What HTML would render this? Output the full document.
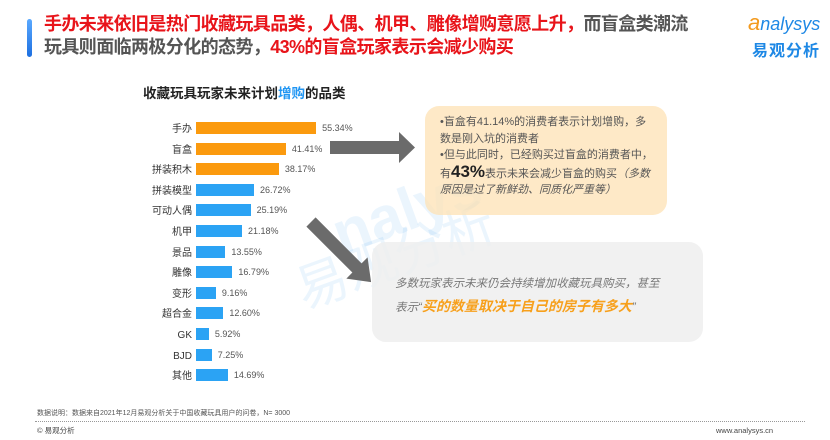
<!DOCTYPE html>
<html><head><meta charset="utf-8"><style>
body{margin:0;width:830px;height:440px;background:#fff;position:relative;overflow:hidden;font-family:"Liberation Sans","Noto Sans CJK SC",sans-serif}
.a{position:absolute;white-space:nowrap}
.t{font-size:18px;font-weight:bold;color:#555;line-height:23px;letter-spacing:-0.6px}
.r{color:#e8141a}
.lab{font-size:10px;color:#333;text-align:right;width:60px;left:132px;line-height:12px}
.bar{position:absolute;left:196px;height:12px}
.v{font-size:9px;color:#555;line-height:12px}
</style></head><body>
<div class="a" style="left:27px;top:19px;width:5px;height:38px;border-radius:3px;background:linear-gradient(#5aa9ff,#1d6fe0)"></div>
<div class="a t" style="left:44px;top:13px"><span class="r">手办未来依旧是热门收藏玩具品类，人偶、机甲、雕像增购意愿上升，</span>而盲盒类潮流</div>
<div class="a t" style="left:44px;top:36px">玩具则面临两极分化的态势，<span class="r">43%的盲盒玩家表示会减少购买</span></div>
<div class="a" style="left:748px;top:10px;font-size:18px;color:#1e88e5;font-style:italic"><span style="color:#f39a1e;font-size:22px">a</span>nalysys</div>
<div class="a" style="left:752px;top:37px;font-size:16px;color:#1e88e5;font-weight:bold;letter-spacing:1px">易观分析</div>
<div class="a" style="left:330px;top:175px;font-size:60px;font-weight:bold;color:rgba(30,140,230,0.09);transform:rotate(-20deg)">nalys</div>
<div class="a" style="left:290px;top:215px;font-size:52px;color:rgba(30,140,230,0.09);transform:rotate(-20deg)">易观分析</div>
<div class="a" style="left:143px;top:82px;font-size:13.5px;font-weight:bold;color:#222">收藏玩具玩家未来计划<span style="color:#2196f3">增购</span>的品类</div>
<div id="c"></div>
<script>
var d=[["手办",55.34,1],["盲盒",41.41,1],["拼装积木",38.17,1],["拼装模型",26.72],["可动人偶",25.19],["机甲",21.18],["景品",13.55],["雕像",16.79],["变形",9.16],["超合金",12.60],["GK",5.92],["BJD",7.25],["其他",14.69]];
var h="";d.forEach(function(e,i){var y=128+i*20.6;var w=e[1]*2.17;
h+='<div class="a lab" style="top:'+(y-4)+'px">'+e[0]+'</div><div class="bar" style="top:'+(y-6)+'px;width:'+w+'px;background:'+(e[2]?'#fb9a0e':'#2ba3f4')+'"></div><div class="a v" style="left:'+(196+w+6)+'px;top:'+(y-6)+'px">'+e[1].toFixed(2)+'%</div>';});
document.getElementById("c").innerHTML=h;
</script>
<svg class="a" style="left:0;top:0" width="830" height="440"><polygon points="330,141 399,141 399,132 415,147.5 399,163 399,154 330,154" fill="#6b6b6b"/>
<g transform="translate(311,222) rotate(45)"><polygon points="0,-6.5 65,-6.5 65,-15 85,0 65,15 65,6.5 0,6.5" fill="#6b6b6b"/></g></svg>
<div class="a" style="left:425px;top:106px;width:242px;height:109px;border-radius:14px;background:rgba(253,226,180,0.75)"></div>
<div class="a" style="left:440px;top:114px;font-size:11px;color:#555;line-height:16.5px">•盲盒有41.14%的消费者表示计划增购，多<br>数是刚入坑的消费者<br>•但与此同时，已经购买过盲盒的消费者中，<br>有<b style="font-size:17px;color:#222">43%</b>表示未来会减少盲盒的购买<i>（多数<br>原因是过了新鲜劲、同质化严重等）</i></div>
<div class="a" style="left:372px;top:242px;width:331px;height:100px;border-radius:14px;background:rgba(238,238,238,0.85)"></div>
<div class="a" style="left:395px;top:273px;font-size:11.5px;color:#777;font-style:italic;line-height:22px">多数玩家表示未来仍会持续增加收藏玩具购买，甚至<br>表示“<b style="color:#f7a01c;font-size:14px">买的数量取决于自己的房子有多大</b>”</div>
<div class="a" style="left:37px;top:408px;font-size:7px;color:#555">数据说明：数据来自2021年12月易观分析关于中国收藏玩具用户的问卷，N= 3000</div>
<div class="a" style="left:35px;top:421px;width:770px;border-top:1px dotted #999"></div>
<div class="a" style="left:37px;top:425px;font-size:7.5px;color:#444">© 易观分析</div>
<div class="a" style="left:716px;top:426px;font-size:7.5px;color:#444">www.analysys.cn</div>
</body></html>
